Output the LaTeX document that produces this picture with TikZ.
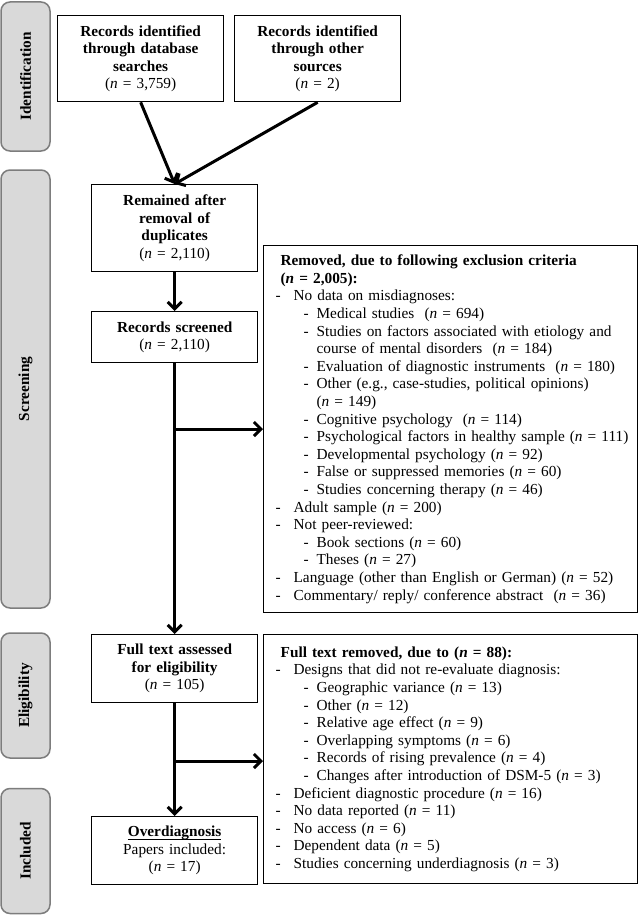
\documentclass[tikz,border=0pt]{standalone}
\usepackage{fontspec}
\setmainfont{Liberation Serif}
\usetikzlibrary{arrows.meta}
\definecolor{sidefill}{RGB}{217,217,217}
\definecolor{sidedraw}{RGB}{125,125,125}
\newcommand\hdr[1]{\hspace*{13pt}\textbf{#1}}
\newcommand\la[1]{\hspace*{8pt}\makebox[18pt][l]{-}#1}
\newcommand\lb[1]{\hspace*{36pt}\makebox[13pt][l]{-}#1}
\newcommand\lc[1]{\hspace*{49pt}#1}
\newcommand\nn{\textit{n}}
\newsavebox\ulbox
\newcommand\myul[1]{\sbox\ulbox{#1}\rlap{\usebox\ulbox}\rule[-3.6pt]{\wd\ulbox}{1.1pt}}
\begin{document}
\begin{tikzpicture}[x=1pt,y=-1pt,
  font=\fontsize{15.3}{17.6}\selectfont,
  box/.style={draw=black, line width=1.3pt, minimum width=166pt, align=center,
    inner sep=0pt, anchor=north west, text width=160pt},
  list/.style={draw=black, line width=1.3pt, minimum width=374pt, inner xsep=4pt,
    inner ysep=0pt, anchor=north west, text width=366pt, align=left},
  side/.style={draw=sidedraw, fill=sidefill, line width=1.5pt, rounded corners=9pt,
    rotate=90, minimum height=49pt, inner sep=0pt, font=\fontsize{15.3}{17.6}\selectfont\bfseries},
  flow/.style={line width=3pt, -{Straight Barb[length=7pt,width=14pt]}}
]
\useasboundingbox (0,0) rectangle (640,915);
\fill[white] (0,0) rectangle (640,915);

% side labels
\node[side, minimum width=149pt] (sid) at (25.5,76.5) {Identification};
\node[side, minimum width=438pt] (sscr) at (25.5,389) {Screening};
\node[side, minimum width=125pt] (self) at (25.5,695.5) {Eligibility};
\node[side, minimum width=125pt] (sinc) at (25.5,851) {Included};

% boxes
\node[box, minimum height=86pt] (A) at (57,15)
  {\textbf{Records identified\\through database\\searches}\\(\nn{} = 3,759)};
\node[box, minimum height=86pt] (B) at (234,15)
  {\textbf{Records identified\\through other\\sources}\\(\nn{} = 2)};
\node[box, minimum height=87pt] (C) at (91,184)
  {\textbf{Remained after\\removal of\\duplicates}\\(\nn{} = 2,110)};
\node[box, minimum height=51pt] (D) at (91,311)
  {\textbf{Records screened}\\(\nn{} = 2,110)};
\node[box, minimum height=68pt] (F) at (91,634)
  {\textbf{Full text assessed\\for eligibility}\\(\nn{} = 105)};
\node[box, minimum height=68pt] (G) at (91,816)
  {\myul{\textbf{Overdiagnosis}}\\Papers included:\\(\nn{} = 17)};

\node[list, minimum height=367pt] (E) at (263,245) {%
\hdr{Removed, due to following exclusion criteria}\\
\hdr{(\textit{\textbf{n}} = 2,005):}\\
\la{No data on misdiagnoses:}\\
\lb{Medical studies\ \ (\nn{} = 694)}\\
\lb{Studies on factors associated with etiology and}\\
\lc{course of mental disorders\ \ (\nn{} = 184)}\\
\lb{Evaluation of diagnostic instruments\ \ (\nn{} = 180)}\\
\lb{Other (e.g., case-studies, political opinions)}\\
\lc{(\nn{} = 149)}\\
\lb{Cognitive psychology\ \ (\nn{} = 114)}\\
\lb{Psychological factors in healthy sample (\nn{} = 111)}\\
\lb{Developmental psychology (\nn{} = 92)}\\
\lb{False or suppressed memories (\nn{} = 60)}\\
\lb{Studies concerning therapy (\nn{} = 46)}\\
\la{Adult sample (\nn{} = 200)}\\
\la{Not peer-reviewed:}\\
\lb{Book sections (\nn{} = 60)}\\
\lb{Theses (\nn{} = 27)}\\
\la{Language (other than English or German) (\nn{} = 52)}\\
\la{Commentary/ reply/ conference abstract\ \ (\nn{} = 36)}};

\node[list, minimum height=249pt] (H) at (263,634) {%
\hdr{Full text removed, due to (\textit{\textbf{n}} = 88):}\\
\la{Designs that did not re-evaluate diagnosis:}\\
\lb{Geographic variance (\nn{} = 13)}\\
\lb{Other (\nn{} = 12)}\\
\lb{Relative age effect (\nn{} = 9)}\\
\lb{Overlapping symptoms (\nn{} = 6)}\\
\lb{Records of rising prevalence (\nn{} = 4)}\\
\lb{Changes after introduction of DSM-5 (\nn{} = 3)}\\
\la{Deficient diagnostic procedure (\nn{} = 16)}\\
\la{No data reported (\nn{} = 11)}\\
\la{No access (\nn{} = 6)}\\
\la{Dependent data (\nn{} = 5)}\\
\la{Studies concerning underdiagnosis (\nn{} = 3)}};

% connectors
\draw[flow] (A.south) -- (C.north);
\draw[flow] (B.south) -- (C.north);
\draw[flow] (C.south) -- (D.north);
\draw[flow] (D.south) -- (F.north);
\draw[flow] (F.south) -- (G.north);
\coordinate (b1) at (174,429);
\coordinate (b2) at (174,761);
\draw[flow] (b1) -- (b1 -| E.west);
\draw[flow] (b2) -- (b2 -| H.west);
\end{tikzpicture}
\end{document}
